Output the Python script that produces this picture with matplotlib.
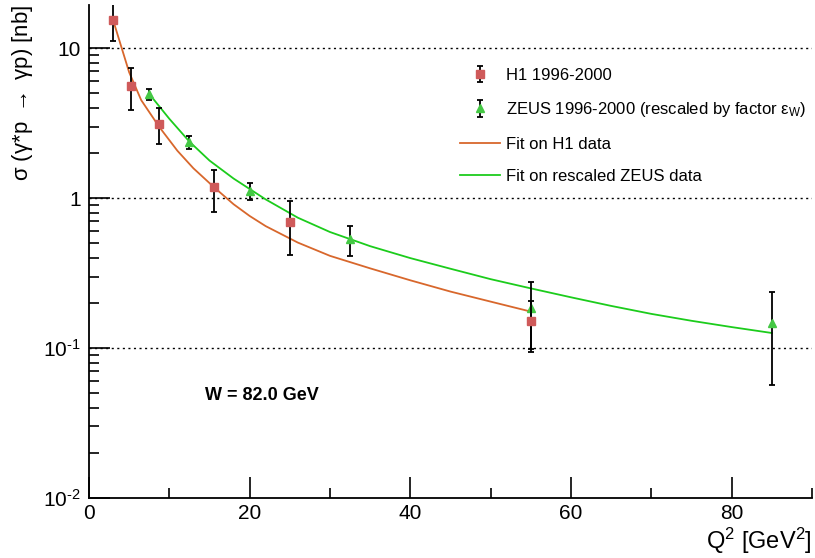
import matplotlib
matplotlib.use("Agg")
import matplotlib.pyplot as plt
from matplotlib.ticker import FixedLocator, FixedFormatter, MultipleLocator

plt.rcParams['font.family'] = ['Liberation Sans', 'DejaVu Sans']
plt.rcParams['mathtext.fontset'] = 'custom'
plt.rcParams['mathtext.rm'] = 'Liberation Sans'
plt.rcParams['mathtext.it'] = 'Liberation Sans:italic'
plt.rcParams['mathtext.bf'] = 'Liberation Sans:bold'

# H1 1996-2000 points
h1_q2 = [3.0, 5.25, 8.75, 15.5, 25.0, 55.0]
h1_sig = [15.4, 5.6, 3.13, 1.18, 0.69, 0.152]
h1_err = [4.2, 1.75, 0.83, 0.37, 0.27, 0.054]

# ZEUS 1996-2000 (rescaled) points
zeus_q2 = [7.5, 12.5, 20.0, 32.5, 55.0, 85.0]
zeus_sig = [4.91, 2.36, 1.12, 0.533, 0.184, 0.146]
zeus_err = [0.40, 0.23, 0.15, 0.12, 0.09, 0.089]

# fit curves
h1_fit_q2 = [3, 4, 5, 6.5, 8.75, 11, 13, 15.5, 18, 20, 22, 26, 30, 35, 40, 45, 50, 55]
h1_fit_sig = [15.4, 10.3, 6.9, 4.5, 2.98, 2.07, 1.58, 1.19, 0.91, 0.76, 0.65, 0.505,
              0.412, 0.34, 0.283, 0.238, 0.204, 0.175]
zeus_fit_q2 = [7.5, 10, 12.5, 15, 18, 22, 26, 30, 35, 40, 45, 50, 55, 60, 65, 70,
               75, 80, 85]
zeus_fit_sig = [4.95, 3.38, 2.38, 1.78, 1.35, 0.98, 0.74, 0.594, 0.478, 0.398,
                0.338, 0.288, 0.250, 0.218, 0.191, 0.169, 0.152, 0.138, 0.126]

y_ticks = [0.01, 0.1, 1, 10]
y_labels = ['10$^{\\text{-2}}$', '10$^{\\text{-1}}$', '1', '10']

orange = '#d8672c'
green = '#1ccc1c'

fig = plt.figure(figsize=(8.15, 5.58), dpi=100)
ax = fig.add_axes([89 / 815, 1 - 498 / 558, (812 - 89) / 815, (498 - 5) / 558])

ax.set_yscale('log')
ax.set_xlim(0, 90)
ax.set_ylim(0.01, 19.4)

for y in [0.1, 1, 10]:
    ax.axhline(y, color='black', lw=1.0, ls=(0, (1.5, 2.5)), zorder=1)

f1, = ax.plot(h1_fit_q2, h1_fit_sig, color=orange, lw=1.3, zorder=2)
f2, = ax.plot(zeus_fit_q2, zeus_fit_sig, color=green, lw=1.3, zorder=2)

e2 = ax.errorbar(zeus_q2, zeus_sig, yerr=zeus_err, fmt='^', color='#44c844',
                 ms=6, mec='#44c844', ecolor='black', elinewidth=1.3,
                 capsize=2.5, capthick=1.3, zorder=3)
e1 = ax.errorbar(h1_q2, h1_sig, yerr=h1_err, fmt='s', color='#cf5a5a',
                 ms=6, mec='#cf5a5a', ecolor='black', elinewidth=1.3,
                 capsize=2.5, capthick=1.3, zorder=4)

ax.yaxis.set_major_locator(FixedLocator(y_ticks))
ax.yaxis.set_major_formatter(FixedFormatter(y_labels))
minors = [m * 10.0 ** d for d in [-2, -1, 0, 1] for m in range(2, 10)]
ax.yaxis.set_minor_locator(FixedLocator(minors))
ax.yaxis.set_minor_formatter(FixedFormatter([''] * len(minors)))
ax.xaxis.set_major_locator(MultipleLocator(20))
ax.xaxis.set_minor_locator(MultipleLocator(10))

ax.tick_params(which='major', direction='in', length=15, width=1.2,
               labelsize=15, pad=6)
ax.tick_params(which='minor', direction='in', length=7.5, width=1.2)
ax.tick_params(axis='x', which='major', pad=4)

for s in ['top', 'right']:
    ax.spines[s].set_visible(False)
for s in ['left', 'bottom']:
    ax.spines[s].set_linewidth(1.3)

ax.set_xlabel('Q$^{2}$ [GeV$^{2}$]', fontsize=17, loc='right', labelpad=2)
ax.set_ylabel('σ (γ*p $\\rightarrow$ γp) [nb]', fontsize=16, loc='top', labelpad=6)

ax.text(205, 558 - 395, 'W = 82.0 GeV', transform=None, fontsize=13,
        fontweight='bold', va='center')

leg = ax.legend([e1, e2, f1, f2],
                ['H1 1996-2000',
                 'ZEUS 1996-2000 (rescaled by factor ε$_{\\rm W}$)',
                 'Fit on H1 data', 'Fit on rescaled ZEUS data'],
                loc='upper left', bbox_to_anchor=(453 / 815, 1 - 61 / 558),
                bbox_transform=fig.transFigure, frameon=False, fontsize=12,
                handlelength=2.4, labelspacing=1.05, handletextpad=0.4,
                borderaxespad=0)

fig.savefig('out.png', dpi=100)
